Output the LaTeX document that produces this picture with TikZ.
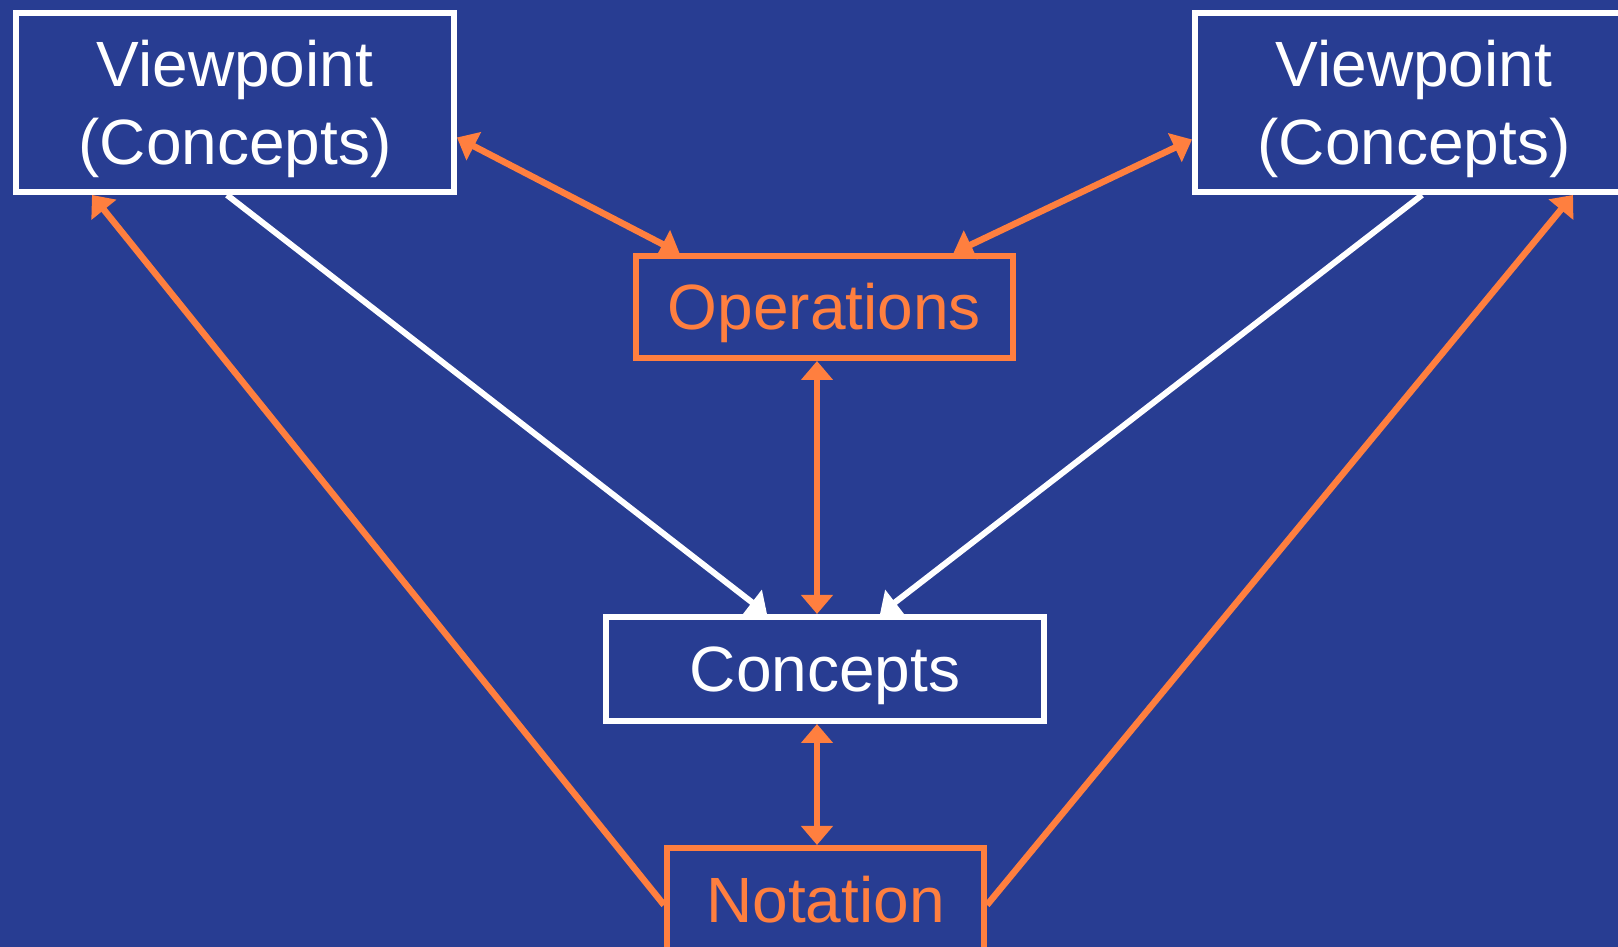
\documentclass[tikz,border=0pt]{standalone}
\usepackage{fontspec}
\setmainfont{Liberation Sans}
\usetikzlibrary{arrows.meta}

\definecolor{slideblue}{RGB}{40,61,146}
\definecolor{slideorange}{RGB}{255,127,63}

\tikzset{
  box/.style={draw, line width=6pt, inner sep=0pt, align=center,
    text height=45pt, text depth=0pt,
    font=\fontsize{64}{78}\selectfont},
  twolines/.style={text height=125pt, text depth=0pt},
  whitebox/.style={box, draw=white, text=white},
  orangebox/.style={box, draw=slideorange, text=slideorange},
  >={Triangle[length=19pt, width=31pt]},
  orangelink/.style={slideorange, line width=6.5pt},
  whitelink/.style={white, line width=6pt}
}

\begin{document}
\begin{tikzpicture}[x=1pt, y=1pt]

% Background
\fill[slideblue] (0,0) rectangle (1618,947);
\useasboundingbox (0,0) rectangle (1618,947);

% Define the box sizes
\def\wide{438}
\def\high{179}

% Draw boxes
\node[whitebox, twolines, minimum width=\wide, minimum height=\high] (vpl) at (235,844.5) {Viewpoint\\(Concepts)};
\node[whitebox, twolines, minimum width=\wide, minimum height=\high] (vpr) at (1414,844.5) {Viewpoint\\(Concepts)};
\node[orangebox, minimum width=377, minimum height=102] (ops) at (824.5,640) {Operations};
\node[whitebox, minimum width=\wide, minimum height=104] (con) at (825,278) {Concepts};
\node[orangebox, minimum width=317, minimum height=104] (nota) at (825.5,47) {Notation};

% Vertical axis of the arrows
\coordinate (vx) at (817,0);

% Draw viewpoints to operations
\draw[orangelink, <->] ([yshift=-35pt]vpl.east) -- ([xshift=-145pt]ops.north);
\draw[orangelink, <->] ([yshift=-37pt]vpr.west) -- ([xshift=129pt]ops.north);

% Draw operations, concepts and notation
\draw[orangelink, <->] (ops.south -| vx) -- (con.north -| vx);
\draw[orangelink, <->] (con.south -| vx) -- (nota.north -| vx);

% Draw viewpoints to concepts
\draw[whitelink, ->] ([xshift=-8pt]vpl.south) -- ([xshift=-58pt]con.north);
\draw[whitelink, ->] ([xshift=8pt]vpr.south) -- ([xshift=55pt]con.north);

% Draw notation to viewpoints
\draw[orangelink, ->] ([yshift=-5pt]nota.west) -- ([xshift=79pt]vpl.south west);
\draw[orangelink, ->] ([yshift=-5pt]nota.east) -- ([xshift=159pt]vpr.south);

\end{tikzpicture}
\end{document}
